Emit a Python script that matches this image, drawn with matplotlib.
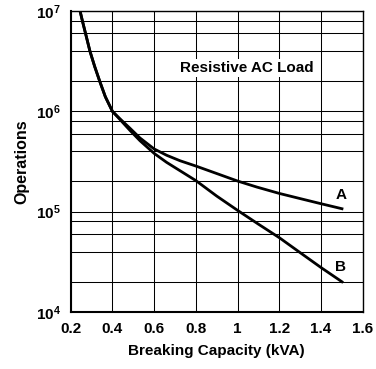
import matplotlib
matplotlib.use('Agg')
from matplotlib import pyplot as plt
from matplotlib.ticker import FixedLocator, FixedFormatter

plt.rcParams['font.family'] = ['Liberation Sans', 'DejaVu Sans']
plt.rcParams['mathtext.fontset'] = 'custom'
plt.rcParams['mathtext.bf'] = 'Liberation Sans:bold'
plt.rcParams['mathtext.rm'] = 'Liberation Sans:bold'

# curve A (upper) and B (lower)
a_x = [0.245, 0.256, 0.271, 0.292, 0.315, 0.339, 0.366, 0.4, 0.437, 0.485, 0.532, 0.6, 0.66,
       0.724, 0.8, 0.9, 1.0, 1.092, 1.2, 1.3, 1.4, 1.5]
a_y = [1e7, 8e6, 6e6, 4e6, 2.8e6, 2e6, 1.4e6, 1e6, 8.4e5, 6.76e5, 5.43e5, 4.22e5, 3.65e5,
       3.22e5, 2.85e5, 2.4e5, 2.02e5, 1.76e5, 1.52e5, 1.35e5, 1.2e5, 1.07e5]
b_x = [0.245, 0.256, 0.271, 0.292, 0.315, 0.339, 0.366, 0.4, 0.437, 0.485, 0.532, 0.6, 0.66,
       0.724, 0.8, 0.9, 1.0, 1.1, 1.2, 1.3, 1.4, 1.5]
b_y = [1e7, 8e6, 6e6, 4e6, 2.8e6, 2e6, 1.4e6, 1e6, 8.26e5, 6.43e5, 5.1e5, 3.81e5, 3.1e5,
       2.56e5, 2.04e5, 1.43e5, 1.03e5, 7.5e4, 5.5e4, 3.9e4, 2.77e4, 2.0e4]

x_ticks = [0.2, 0.4, 0.6, 0.8, 1.0, 1.2, 1.4, 1.6]
x_labels = ['0.2', '0.4', '0.6', '0.8', '1', '1.2', '1.4', '1.6']
y_ticks = [1e4, 1e5, 1e6, 1e7]
y_labels = [r'$\mathbf{10^{4}}$', r'$\mathbf{10^{5}}$', r'$\mathbf{10^{6}}$', r'$\mathbf{10^{7}}$']
y_minor = [m * 10 ** e for e in (4, 5, 6) for m in (2, 4, 6, 8)]

fig = plt.figure(figsize=(3.76, 3.69), dpi=100)
ax = fig.add_axes([0.188, 0.1545, 0.777, 0.8155])
ax.set_yscale('log')
ax.set_xlim(0.2, 1.6)
ax.set_ylim(1e4, 1e7)

ax.xaxis.set_major_locator(FixedLocator(x_ticks))
ax.xaxis.set_major_formatter(FixedFormatter(x_labels))
ax.yaxis.set_major_locator(FixedLocator(y_ticks))
ax.yaxis.set_major_formatter(FixedFormatter(y_labels))
ax.yaxis.set_minor_locator(FixedLocator(y_minor))
ax.yaxis.set_minor_formatter(FixedFormatter([]))

ax.grid(True, which='both', axis='y', color='black', linewidth=0.75)
ax.grid(True, which='major', axis='x', color='black', linewidth=0.75)
ax.tick_params(which='both', length=0, pad=7)
for lab in ax.get_xticklabels():
    lab.set_fontsize(11)
    lab.set_fontweight('bold')
for lab in ax.get_yticklabels():
    lab.set_fontsize(11)

for side in ('left', 'bottom'):
    ax.spines[side].set_linewidth(1.5)
for side in ('top', 'right'):
    ax.spines[side].set_linewidth(1.0)

ax.plot(a_x, a_y, color='black', linewidth=2, solid_joinstyle='round', zorder=3)
ax.plot(b_x, b_y, color='black', linewidth=2, solid_joinstyle='round', zorder=3)

ax.text(1.495, 1.47e5, 'A', fontsize=11, fontweight='bold', ha='center', va='center')
ax.text(1.495, 2.8e4, 'B', fontsize=11, fontweight='bold', ha='center', va='center')
ax.text(1.043, 2.72e6, 'Resistive AC Load', fontsize=11, fontweight='bold',
        ha='center', va='center', zorder=4,
        bbox=dict(facecolor='white', edgecolor='none', pad=1.5))

ax.set_xlabel('Breaking Capacity (kVA)', fontsize=11, fontweight='bold', labelpad=6)
ax.set_ylabel('Operations', fontsize=11.5, fontweight='bold', labelpad=5)

fig.savefig('out.png', dpi=100)
